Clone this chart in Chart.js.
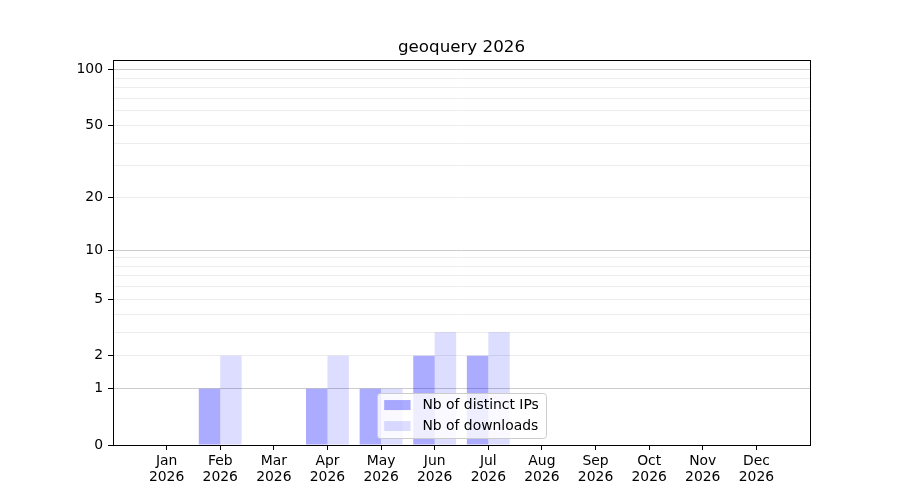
<!DOCTYPE html>
<html>
<head>
<meta charset="utf-8">
<title>geoquery 2026</title>
<script src="https://cdn.jsdelivr.net/npm/chart.js@4/dist/chart.umd.min.js"></script>
<style>
  html, body { margin: 0; padding: 0; background: #fff; }
  #wrap { width: 900px; height: 500px; }
</style>
</head>
<body>
<div id="wrap"><canvas id="chart"></canvas></div>
<script>
const TITLE = "geoquery 2026";
const MONTHS = ["Jan", "Feb", "Mar", "Apr", "May", "Jun", "Jul", "Aug", "Sep", "Oct", "Nov", "Dec"];
const YEAR = "2026";
const DISTINCT_IPS = [0, 1, 0, 1, 1, 2, 2, 0, 0, 0, 0, 0];
const DOWNLOADS = [0, 2, 0, 2, 1, 3, 3, 0, 0, 0, 0, 0];
const Y_LABELED = [0, 1, 2, 5, 10, 20, 50, 100];
const Y_MAJOR_GRID = [1, 10, 100];
const Y_MINOR_GRID = [2, 3, 4, 5, 6, 7, 8, 9, 20, 30, 40, 50, 60, 70, 80, 90];
const Y_MAX = 113;

const FONT = "'DejaVu Sans', sans-serif";

// y = log10(1 + v), like matplotlib's functional scale
class Log1pScale extends Chart.Scale {
    static id = "log1p";
    static defaults = {};

    parse(raw) {
        if (raw === null || raw === undefined) {
            return null;
        }
        const v = +raw;
        return Number.isFinite(v) ? v : null;
    }

    determineDataLimits() {
        const { min, max } = this.getMinMax(true);
        this.min = Number.isFinite(this.options.min) ? this.options.min : Math.min(0, min);
        this.max = Number.isFinite(this.options.max) ? this.options.max : max;
    }

    buildTicks() {
        const values = [...new Set([...Y_LABELED, ...Y_MAJOR_GRID, ...Y_MINOR_GRID])].sort((a, b) => a - b);
        return values.filter((v) => v >= this.min && v <= this.max).map((v) => ({ value: v }));
    }

    configure() {
        super.configure();
        this._start = Math.log10(1 + this.min);
        this._range = Math.log10(1 + this.max) - this._start;
    }

    getLabelForValue(value) {
        return String(value);
    }

    getPixelForValue(value) {
        return this.getPixelForDecimal((Math.log10(1 + value) - this._start) / this._range);
    }

    getValueForPixel(pixel) {
        return Math.pow(10, this._start + this.getDecimalForPixel(pixel) * this._range) - 1;
    }
}
Chart.register(Log1pScale);

// axes frame, title centred on the axes, and legend inside at lower centre
const axesDecor = {
    id: "axesDecor",
    afterDraw(chart) {
        const { ctx, chartArea: a } = chart;
        ctx.save();
        ctx.strokeStyle = "#000";
        ctx.lineWidth = 1;
        ctx.strokeRect(Math.round(a.left) + 0.5, Math.round(a.top) + 0.5,
            Math.round(a.right - a.left), Math.round(a.bottom - a.top));

        ctx.fillStyle = "#000";
        ctx.font = `16.7px ${FONT}`;
        ctx.textAlign = "center";
        ctx.textBaseline = "middle";
        ctx.fillText(TITLE, (a.left + a.right) / 2, 47.5);

        const em = 13.9;
        ctx.font = `${em}px ${FONT}`;
        const items = chart.data.datasets.map((d) => ({ label: d.label, color: d.backgroundColor }));
        const textW = Math.max(...items.map((it) => ctx.measureText(it.label).width));
        const pad = 0.5 * em, handleW = 1.9 * em, handleH = 0.72 * em, gap = 0.85 * em;
        const pitch = 21, edge = 12;
        const w = pad * 2 + handleW + gap + textW;
        const h = edge * 2 + (items.length - 1) * pitch;
        const x = (a.left + a.right) / 2 - w / 2;
        const y = a.bottom - 0.5 * em - h;
        ctx.beginPath();
        ctx.roundRect(Math.round(x) + 0.5, Math.round(y) + 0.5, Math.round(w), Math.round(h), 3);
        ctx.fillStyle = "rgba(255,255,255,0.8)";
        ctx.fill();
        ctx.strokeStyle = "#cccccc";
        ctx.stroke();
        items.forEach((it, i) => {
            const cy = y + edge + i * pitch;
            ctx.fillStyle = it.color;
            ctx.fillRect(x + pad, cy - handleH / 2, handleW, handleH);
            ctx.fillStyle = "#000";
            ctx.textAlign = "left";
            ctx.fillText(it.label, x + pad + handleW + gap, cy);
        });
        ctx.restore();
    },
};

const gridColor = (ctx) => {
    const v = ctx.tick ? ctx.tick.value : null;
    if (Y_MAJOR_GRID.includes(v)) return "#cccccc";
    if (Y_MINOR_GRID.includes(v)) return "#ececec";
    return "rgba(0,0,0,0)";
};

new Chart(document.getElementById("chart"), {
    type: "bar",
    data: {
        datasets: [
            {
                label: "Nb of distinct IPs",
                data: DISTINCT_IPS.map((v, i) => ({ x: i, y: v })),
                backgroundColor: "rgba(0,0,255,0.33)",
                borderWidth: 0,
                categoryPercentage: 0.8,
                barPercentage: 1.0,
            },
            {
                label: "Nb of downloads",
                data: DOWNLOADS.map((v, i) => ({ x: i, y: v })),
                backgroundColor: "rgba(0,0,255,0.135)",
                borderWidth: 0,
                categoryPercentage: 0.8,
                barPercentage: 1.0,
            },
        ],
    },
    options: {
        responsive: true,
        maintainAspectRatio: false,
        animation: false,
        layout: { padding: { top: 60, right: 90, left: 0, bottom: 0 } },
        plugins: {
            legend: { display: false },
            title: { display: false },
            tooltip: { enabled: false },
        },
        scales: {
            x: {
                type: "linear",
                min: -1,
                max: 12,
                offset: false,
                afterBuildTicks: (scale) => {
                    scale.ticks = MONTHS.map((_, i) => ({ value: i }));
                },
                afterFit: (scale) => { scale.height = 55; },
                border: { display: false },
                grid: { offset: false, drawOnChartArea: false, drawTicks: true, tickLength: 5, tickColor: "#000", color: "#000" },
                ticks: {
                    autoSkip: false,
                    maxRotation: 0,
                    padding: 3,
                    color: "#000",
                    font: { family: FONT, size: 13.9, lineHeight: 1.15 },
                    callback: (value) => [MONTHS[value], YEAR],
                },
            },
            y: {
                type: "log1p",
                min: 0,
                max: Y_MAX,
                afterFit: (scale) => { scale.width = 113; },
                border: { display: false },
                grid: {
                    color: gridColor,
                    lineWidth: 1,
                    drawTicks: true,
                    tickLength: 5,
                    tickColor: (ctx) => (Y_LABELED.includes(ctx.tick.value) ? "#000" : "rgba(0,0,0,0)"),
                },
                ticks: {
                    autoSkip: false,
                    padding: 5,
                    color: "#000",
                    font: { family: FONT, size: 13.9 },
                    callback: (value) => (Y_LABELED.includes(value) ? String(value) : ""),
                },
            },
        },
    },
    plugins: [axesDecor],
});
</script>
</body>
</html>
